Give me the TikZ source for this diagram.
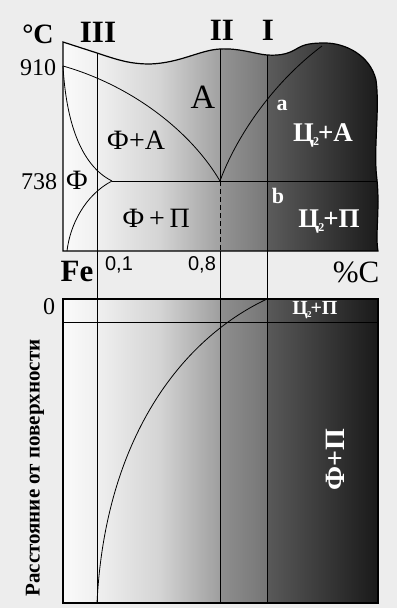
\documentclass[tikz,border=0pt]{standalone}
\usepackage{fontspec}
\setmainfont{Liberation Serif}
\newfontfamily\sansf{Liberation Sans}
\begin{document}
\begin{tikzpicture}[x=1pt,y=-1pt,
  bord/.style={line width=1.2pt, black},
  ln/.style={line width=0.8pt, black},
  lbl/.style={inner sep=0pt, text=black},
  wlbl/.style={inner sep=0pt, text=white},
]
\definecolor{bgc}{HTML}{EDEDED}
\useasboundingbox (0,0) rectangle (397,608);
\fill[bgc] (0,0) rectangle (397,608);
% key points
\coordinate (TL) at (63,42);
\coordinate (P910) at (63,66);
\coordinate (Eut) at (220,181);
\coordinate (Fc) at (112,181);
\coordinate (Fs) at (67,251);
\coordinate (Acm) at (322,46);
\coordinate (R738) at (377,181);
\coordinate (IIIt) at (97,53);
\coordinate (IIt) at (220,49);
\coordinate (It) at (267,55);
\coordinate (IIb) at (220,251);
\coordinate (IIIb) at (97,603);
\coordinate (IIbb) at (220,603);
\coordinate (Ib) at (267,603);
\coordinate (BL) at (63,299);
\coordinate (BR) at (378,603);
\coordinate (HL) at (63,322);
\coordinate (HR) at (378,322);
\coordinate (Ctop) at (267,299);
\def\toppath{(TL) -- (IIIt) .. controls (118,60) and (130,64) .. (150,64)
  .. controls (180,63) and (200,50) .. (IIt) .. controls (240,48) and (255,54) .. (It)
  .. controls (282,56) and (290,53) .. (298,48) .. controls (305,44) and (312,43) .. (325,43)
  .. controls (345,43) and (370,55) .. (376,80) .. controls (380,110) and (373,150) .. (377,180)
  .. controls (380,210) and (375,235) .. (378,251) -- (63,251) -- cycle}
% top shading
\begin{scope}
\clip \toppath;
\shade[left color=black!2, right color=black!6] (63,30) rectangle (97.5,260);
\shade[left color=black!6, right color=black!17] (97,30) rectangle (160.5,260);
\shade[left color=black!17, right color=black!37] (160,30) rectangle (220.5,260);
\shade[left color=black!42, right color=black!53] (220,30) rectangle (267.5,260);
\shade[left color=black!64, right color=black!90] (267,30) rectangle (380,260);
\end{scope}
% bottom shading
\shade[left color=black!2, right color=black!6] (63,299) rectangle (97.5,603);
\shade[left color=black!6, right color=black!17] (97,299) rectangle (160.5,603);
\shade[left color=black!17, right color=black!38] (160,299) rectangle (220.5,603);
\shade[left color=black!44, right color=black!54] (220,299) rectangle (267.5,603);
\shade[left color=black!65, right color=black!90] (267,299) rectangle (378,603);
% phase lines
\draw[ln] (P910) .. controls (130,85) and (190,130) .. (Eut);
\draw[ln] (Eut) .. controls (235,140) and (270,85) .. (Acm);
\draw[ln] (P910) .. controls (66,120) and (80,165) .. (Fc);
\draw[ln] (Fc) .. controls (85,195) and (70,225) .. (Fs);
\draw[ln] (Fc) -- (R738);
\draw[ln] (IIIt) -- (IIIb);
\draw[ln] (IIt) -- (Eut);
\draw[ln, dash pattern=on 5pt off 3pt] (Eut) -- (IIb);
\draw[ln] (IIb) -- (IIbb);
\draw[ln] (It) -- (Ib);
\draw[bord] \toppath;
% bottom
\draw[bord] (BL) rectangle (BR);
\draw[ln] (HL) -- (HR);
\draw[ln] (IIIb) .. controls (105,440) and (180,340) .. (Ctop);
% labels
\node[lbl, font=\bfseries\fontsize{28}{28}\selectfont] (degC) at (38,34) {°C};
\node[lbl, font=\bfseries\fontsize{31}{31}\selectfont] (lIII) at (98,32) {III};
\node[lbl, font=\bfseries\fontsize{31}{31}\selectfont] (lII) at (222,30) {II};
\node[lbl, font=\bfseries\fontsize{31}{31}\selectfont] (lI) at (268,30) {I};
\node[lbl, font=\fontsize{24}{24}\selectfont] (t910) at (38,68) {910};
\node[lbl, font=\fontsize{24}{24}\selectfont] (t738) at (39,182) {738};
\node[lbl, font=\fontsize{34}{34}\selectfont] (lA) at (203,97) {A};
\node[lbl, font=\fontsize{28}{28}\selectfont] (lFA) at (136,140) {Ф+A};
\node[lbl, font=\fontsize{28}{28}\selectfont] (lF) at (77,180) {Ф};
\node[lbl, font=\fontsize{28}{28}\selectfont] (lFP) at (156,218) {Ф\,+\,П};
\node[wlbl, font=\bfseries\fontsize{22}{22}\selectfont] (la) at (282,105) {a};
\node[wlbl, font=\bfseries\fontsize{22}{22}\selectfont] (lb) at (278,196) {b};
\node[wlbl, font=\bfseries\fontsize{27}{27}\selectfont] (lCA) at (323,135) {Ц\kern-1pt\raisebox{-4pt}{\fontsize{12}{12}\selectfont2}\kern-1pt+A};
\node[wlbl, font=\bfseries\fontsize{27}{27}\selectfont] (lCP) at (329,222) {Ц\kern-1pt\raisebox{-4pt}{\fontsize{12}{12}\selectfont2}\kern-1pt+П};
\node[lbl, font=\bfseries\fontsize{31}{31}\selectfont] (lFe) at (77,271) {Fe};
\node[lbl, font=\fontsize{31}{31}\selectfont] (lpC) at (356,272) {\%C};
\node[lbl, font=\sansf\fontsize{20}{20}\selectfont] (l01) at (119,265) {0,1};
\node[lbl, font=\sansf\fontsize{20}{20}\selectfont] (l08) at (202,265) {0,8};
\node[lbl, font=\fontsize{24}{24}\selectfont] (l0) at (49,307) {0};
\node[wlbl, font=\bfseries\fontsize{20}{20}\selectfont] (lCP2) at (315,310) {Ц\kern-1pt\raisebox{-3pt}{\fontsize{9}{9}\selectfont2}\kern-1pt+П};
\node[wlbl, font=\bfseries\fontsize{28}{28}\selectfont, rotate=90] (lFP2) at (335,460) {Ф+П};
\node[lbl, font=\bfseries\fontsize{21}{21}\selectfont, rotate=90] (ldist) at (35,468) {Расстояние от поверхности};
\end{tikzpicture}
\end{document}
